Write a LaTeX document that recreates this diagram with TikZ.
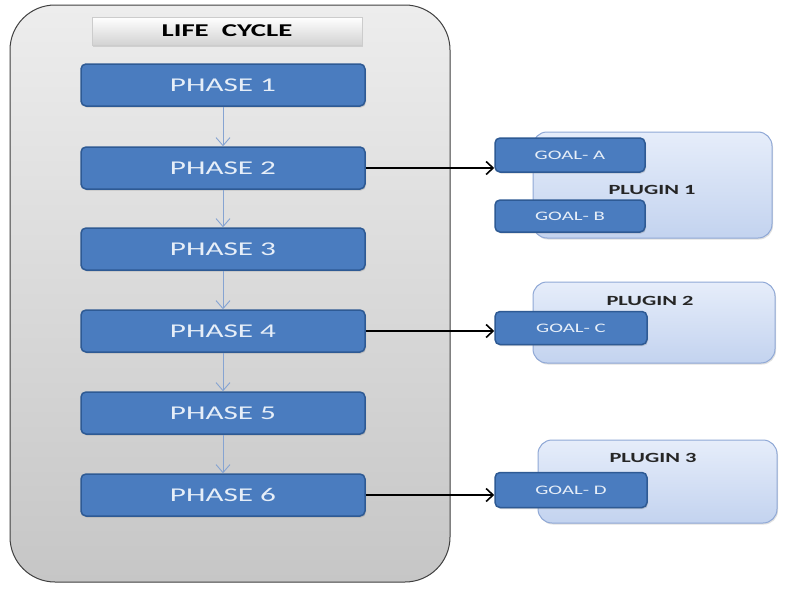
\documentclass[tikz,border=0pt]{standalone}
\usepackage{fontspec}
\setmainfont{Carlito}
\newfontfamily\widefont[FakeStretch=1.6]{Carlito}
\usetikzlibrary{arrows.meta,shadows}
\definecolor{phfill}{HTML}{4A7CBF}
\definecolor{phdraw}{HTML}{2E5A94}
\definecolor{phtext}{HTML}{E6EEF8}
\definecolor{plgtop}{HTML}{E6EDFA}
\definecolor{plgbot}{HTML}{C3D3EF}
\definecolor{plgdraw}{HTML}{8FA8D6}
\definecolor{vline}{HTML}{86A4D2}
\definecolor{conttop}{HTML}{EDEDED}
\definecolor{contbot}{HTML}{C6C6C6}
\tikzset{
  container/.style={draw=black!75, line width=1pt, rounded corners=45pt, top color=conttop, bottom color=contbot},
  titlebox/.style={top color=white, bottom color=gray!35, draw=gray!40, line width=0.4pt, minimum width=270pt, minimum height=28pt, font=\widefont\bfseries\fontsize{18}{18}\selectfont, text=black, drop shadow={shadow xshift=0.5pt, shadow yshift=-1.5pt, opacity=0.25}},
  phasebox/.style={fill=phfill, draw=phdraw, line width=1.5pt, rounded corners=5pt, minimum width=284pt, minimum height=42pt, text=phtext, font=\widefont\fontsize{19.5}{19.5}\selectfont, drop shadow={shadow xshift=1pt, shadow yshift=-1.5pt, opacity=0.3}},
  goalbox/.style={fill=phfill, draw=phdraw, line width=1.5pt, rounded corners=5pt, minimum width=150pt, minimum height=34pt, text=phtext, font=\widefont\fontsize{13}{13}\selectfont, drop shadow={shadow xshift=1pt, shadow yshift=-1.5pt, opacity=0.3}},
  plugbox/.style={top color=plgtop, bottom color=plgbot, draw=plgdraw, line width=1pt, rounded corners=14pt, drop shadow={shadow xshift=1pt, shadow yshift=-1.5pt, opacity=0.25}},
  pluglabel/.style={font=\widefont\bfseries\fontsize{14}{14}\selectfont, text=black!85},
  flow/.style={draw=vline, line width=0.9pt, -{Straight Barb[length=8pt,width=14pt,line width=0.9pt]}},
  link/.style={draw=black, line width=1.8pt, -{Straight Barb[length=7pt,width=13pt,line width=1.6pt]}}
}
\begin{document}
\begin{tikzpicture}[x=1pt,y=-1pt]
\useasboundingbox (0,0) rectangle (785,589);
\fill[white] (0,0) rectangle (785,589);
% container
\node[container, minimum width=440pt, minimum height=577pt] (cont) at (230,293.5) {};
\node[titlebox] (title) at (227,31) {LIFE\ \ CYCLE};
% phases
\node[phasebox] (p1) at (223,85) {PHASE 1};
\node[phasebox] (p2) at (223,168) {PHASE 2};
\node[phasebox] (p3) at (223,249) {PHASE 3};
\node[phasebox] (p4) at (223,331) {PHASE 4};
\node[phasebox] (p5) at (223,413) {PHASE 5};
\node[phasebox] (p6) at (223,495) {PHASE 6};
\draw[flow] (p1) -- (p2);
\draw[flow] (p2) -- (p3);
\draw[flow] (p3) -- (p4);
\draw[flow] (p4) -- (p5);
\draw[flow] (p5) -- (p6);
% plugins
\node[plugbox, minimum width=239pt, minimum height=106pt] (pl1) at (652.5,185) {};
\node[pluglabel] (pl1l) at (652,190) {PLUGIN 1};
\node[plugbox, minimum width=242pt, minimum height=81pt] (pl2) at (654,322.5) {};
\node[pluglabel] (pl2l) at (650,301) {PLUGIN 2};
\node[plugbox, minimum width=239pt, minimum height=83pt] (pl3) at (657.5,481.5) {};
\node[pluglabel] (pl3l) at (653,458) {PLUGIN 3};
% goals
\node[goalbox] (gA) at (570,155) {GOAL- A};
\node[goalbox, minimum height=32pt] (gB) at (570,216) {GOAL- B};
\node[goalbox, minimum width=152pt, minimum height=33pt] (gC) at (571,328) {GOAL- C};
\node[goalbox, minimum width=152pt, minimum height=35pt] (gD) at (571,490) {GOAL- D};
% links
\draw[link] (p2.east) -- (p2.east -| gA.west);
\draw[link] (p4.east) -- (p4.east -| gC.west);
\draw[link] (p6.east) -- (p6.east -| gD.west);
\end{tikzpicture}
\end{document}
